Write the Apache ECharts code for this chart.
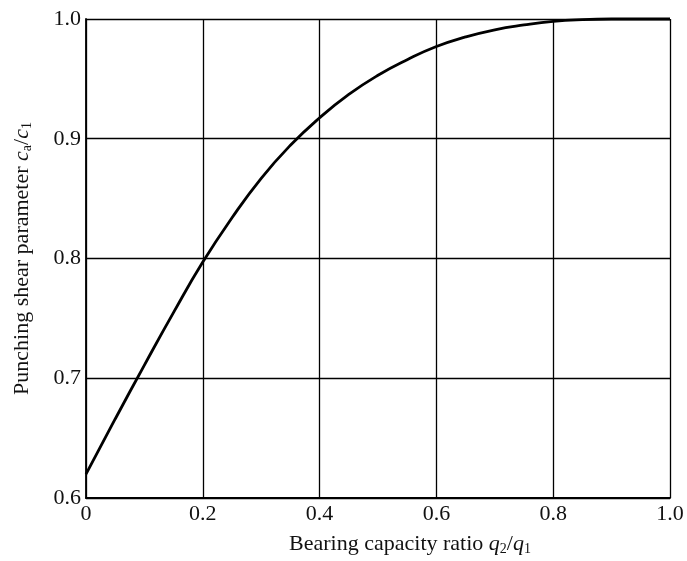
<!DOCTYPE html>
<html>
<head>
<meta charset="utf-8">
<script src="https://cdn.jsdelivr.net/npm/echarts@6/dist/echarts.min.js"></script>
<style>html,body{margin:0;padding:0;background:#fff}#c{width:687px;height:561px}</style>
</head>
<body>
<div id="c"></div>
<script>
const ratioX = [0, 0.05, 0.1, 0.15, 0.2, 0.25, 0.3, 0.35, 0.4, 0.45, 0.5, 0.55, 0.6, 0.65, 0.7, 0.75, 0.8, 0.85, 0.9, 0.95, 1.0];
const paramY = [0.62, 0.666, 0.711, 0.755, 0.797, 0.834, 0.867, 0.8945, 0.9175, 0.937, 0.953, 0.966, 0.977, 0.985, 0.991, 0.995, 0.998, 0.9995, 1.0, 1.0, 1.0];
const xTicks = [0, 0.2, 0.4, 0.6, 0.8, 1.0];
const yTicks = [0.6, 0.7, 0.8, 0.9, 1.0];

const font = '"Liberation Serif", "Times New Roman", serif';
const chart = echarts.init(document.getElementById('c'));
const rich = {
  t: {fontFamily: font, fontSize: 22, color: '#111'},
  i: {fontFamily: font, fontSize: 22, fontStyle: 'italic', color: '#111'},
  s: {fontFamily: font, fontSize: 14, color: '#111', padding: [10, 0, 0, 0]}
};
chart.setOption({
  animation: false,
  grid: {left: 86, top: 19, width: 584, height: 480, show: false},
  xAxis: {
    type: 'value', min: 0, max: 1, interval: 0.2,
    name: '{t|Bearing capacity ratio }{i|q}{s|2}{t|/}{i|q}{s|1}',
    nameLocation: 'middle', nameGap: 34,
    nameTextStyle: {rich: rich, padding: [0, 0, 0, 64]},
    axisLine: {show: true, lineStyle: {color: '#000', width: 1.8}},
    axisTick: {show: false},
    splitLine: {show: true, lineStyle: {color: '#000', width: 1.3}},
    axisLabel: {
      fontFamily: font, fontSize: 22, color: '#111', margin: 5,
      formatter: v => {
        const t = xTicks.find(k => Math.abs(k - v) < 1e-6);
        return t === 0 ? '0' : t.toFixed(1);
      }
    }
  },
  yAxis: {
    type: 'value', min: 0.6, max: 1.0, interval: 0.1,
    name: '{t|Punching shear parameter }{i|c}{s|a}{t|/}{i|c}{s|1}',
    nameLocation: 'middle', nameGap: 52,
    nameTextStyle: {rich: rich},
    axisLine: {show: true, lineStyle: {color: '#000', width: 1.8}},
    axisTick: {show: false},
    splitLine: {show: true, lineStyle: {color: '#000', width: 1.3}},
    axisLabel: {
      fontFamily: font, fontSize: 22, color: '#111', margin: 5,
      formatter: v => {
        const t = yTicks.find(k => Math.abs(k - v) < 1e-6);
        return t.toFixed(1);
      }
    }
  },
  series: [{
    type: 'line',
    data: ratioX.map((x, i) => [x, paramY[i]]),
    smooth: 0.5,
    showSymbol: false,
    lineStyle: {color: '#000', width: 2.8},
    clip: false
  }]
});
</script>
</body>
</html>
